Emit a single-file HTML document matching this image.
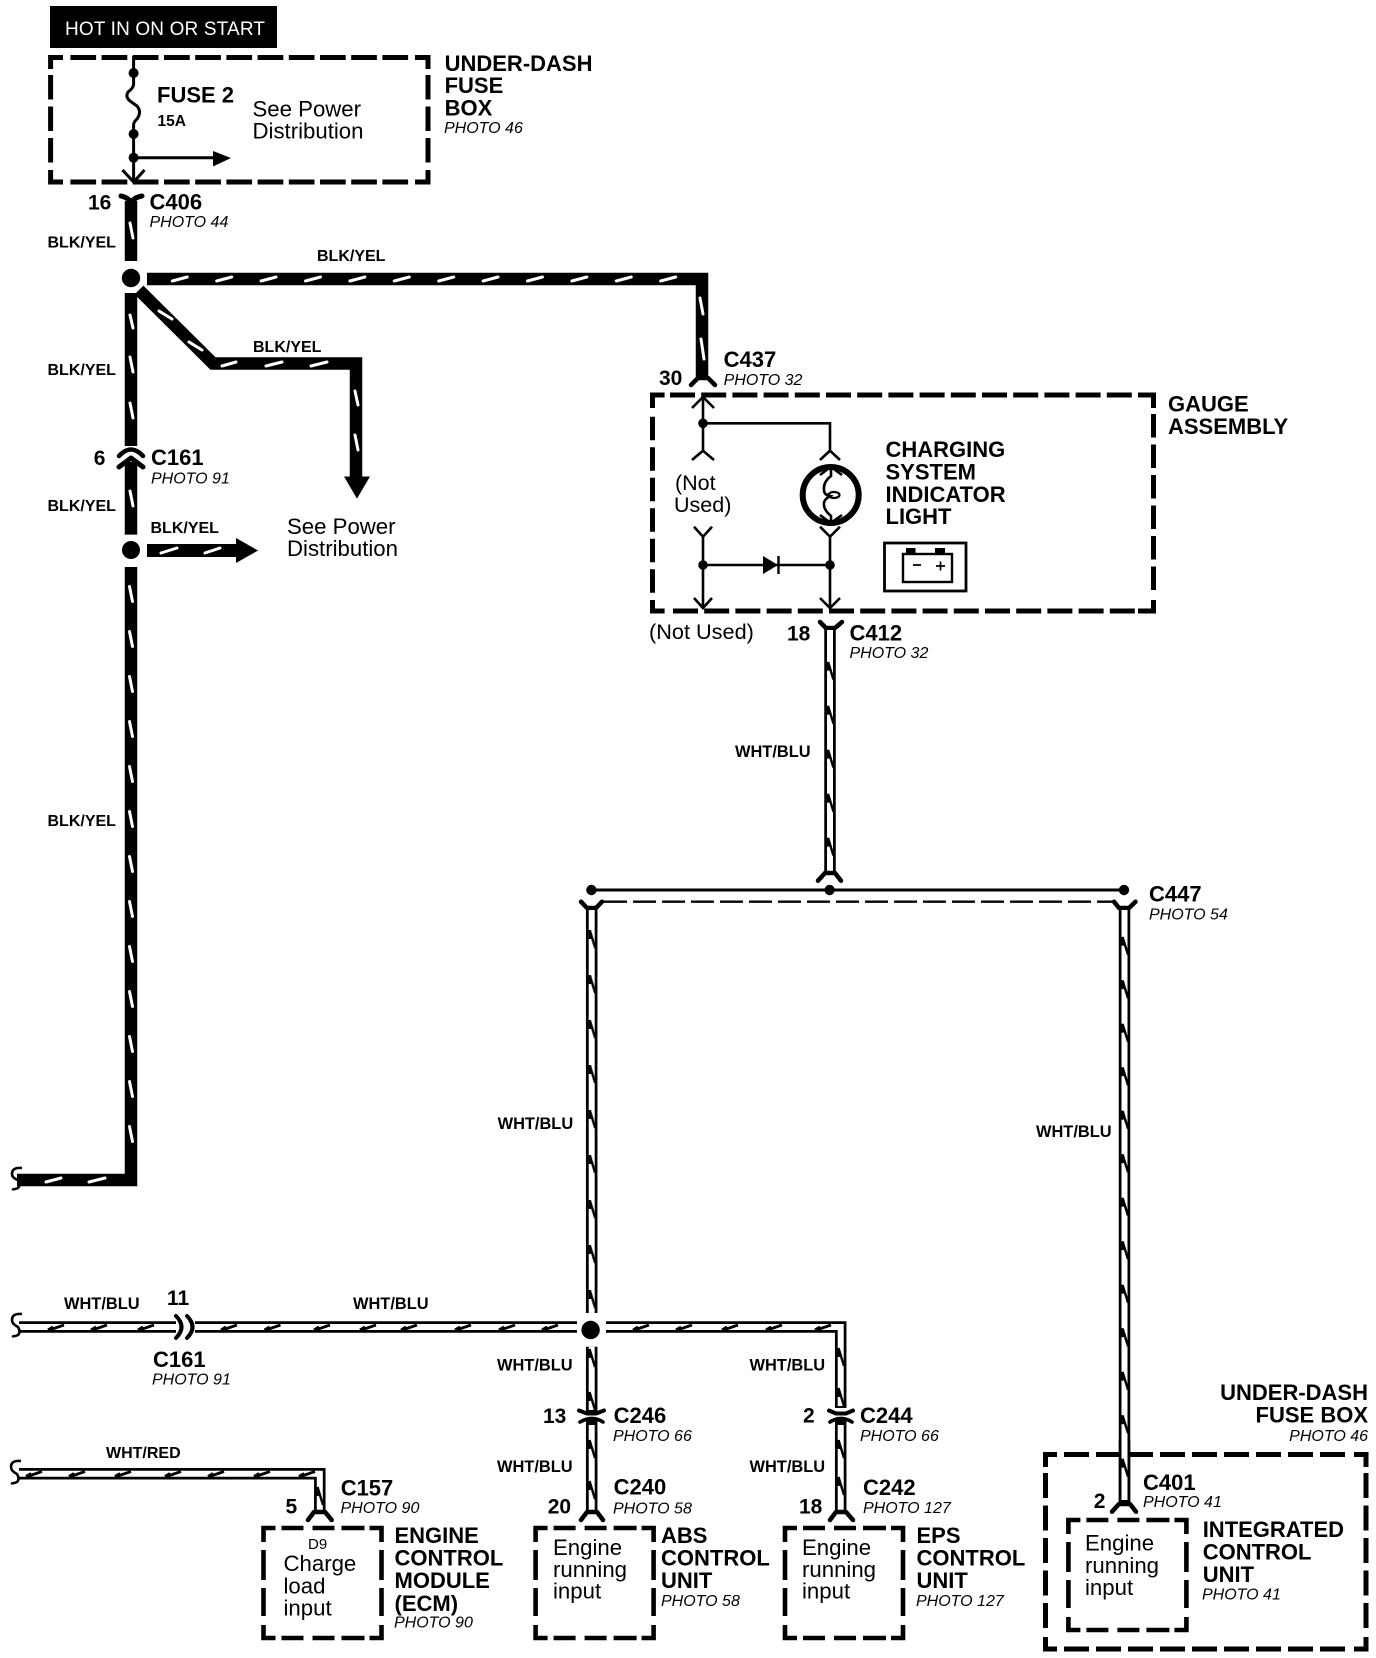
<!DOCTYPE html>
<html lang="en">
<head>
<meta charset="utf-8">
<title>Charging system wiring diagram</title>
<style>
html,body{margin:0;padding:0;background:#fff}
svg{display:block}
text{font-family:"Liberation Sans",sans-serif;fill:#000}
.b22{font-weight:bold;font-size:22px}
.b21{font-weight:bold;font-size:21px}
.r22{font-size:22.2px}
.w{font-weight:bold;font-size:16px}
.wb{font-weight:bold;font-size:16.4px}
.p{font-style:italic;font-size:16px}
.d{fill:none;stroke:#000;stroke-width:5}
.t{fill:none;stroke:#000;stroke-width:2.6}
.c{fill:none;stroke:#000;stroke-width:4.5;stroke-linejoin:round;stroke-linecap:round}
.wk{fill:none;stroke:#000;stroke-width:11.5}
.wi{fill:none;stroke:#fff;stroke-width:6}
.bk{fill:none;stroke:#000;stroke-width:12.5}
.m{stroke:#fff;stroke-width:3;stroke-linecap:round}
</style>
</head>
<body>
<svg width="1376" height="1658" viewBox="0 0 1376 1658" xmlns="http://www.w3.org/2000/svg">
<defs>
<pattern id="bh" patternUnits="userSpaceOnUse" width="44.4" height="13" patternTransform="translate(170.8,272.5)">
  <line x1="1.5" y1="8.5" x2="16.5" y2="4.5" stroke="#fff" stroke-width="3" stroke-linecap="round"/>
</pattern>
<pattern id="bv" patternUnits="userSpaceOnUse" width="12" height="45" patternTransform="translate(125,585)">
  <line x1="4.5" y1="1.5" x2="7.5" y2="16.5" stroke="#fff" stroke-width="3" stroke-linecap="round"/>
</pattern>
<path id="nm" d="M3.5 0V9M3.5 0L9 18" stroke="#000" stroke-width="2.4" fill="none"/>
<path id="zm" d="M0 8.5L5 5.5L3 8L16 3.5" stroke="#000" stroke-width="2.8" fill="none"/>
<pattern id="v830" patternUnits="userSpaceOnUse" width="12" height="44" patternTransform="translate(824.5,661.7)">
  <use href="#nm"/>
</pattern>
<pattern id="v591" patternUnits="userSpaceOnUse" width="12" height="45" patternTransform="translate(586.2,930)">
  <use href="#nm"/>
</pattern>
<pattern id="v1124" patternUnits="userSpaceOnUse" width="12" height="43.5" patternTransform="translate(1119,936.7)">
  <use href="#nm"/>
</pattern>
<g id="smallbox">
  <path class="d" style="stroke-width:4.6" d="M0 14V0H12 M18 0H40 M49 0H71 M78 0H101 M106 0H118V14 M0 22V52 M0 60V88 M0 97V110H12 M18 110H40 M49 110H71 M78 110H101 M106 110H118V97 M118 22V52 M118 60V88"/>
</g>
</defs>

<!-- header -->
<rect x="50" y="6" width="227" height="42" fill="#000"/>
<text x="65" y="35" font-size="19" textLength="200" lengthAdjust="spacing" style="fill:#fff">HOT IN ON OR START</text>

<!-- fuse box -->
<path class="d" d="M50.6 69V57.5H63 M415 57.5H428V69 M50.6 170V182H63 M415 182H428V170"/>
<line class="d" x1="70.4" y1="57.5" x2="410" y2="57.5" stroke-dasharray="25.7 5.5"/>
<line class="d" x1="70.4" y1="182" x2="410" y2="182" stroke-dasharray="25.7 5.5"/>
<line class="d" x1="50.6" y1="75" x2="50.6" y2="163" stroke-dasharray="24.5 7"/>
<line class="d" x1="428" y1="75" x2="428" y2="163" stroke-dasharray="24.5 7"/>
<path class="t" style="stroke-width:3" d="M133.6 56V84Q133.6 88 128 92Q125 97 130 101L137 106Q142 112 137 119Q133.6 122 133.6 125V182"/>
<circle cx="133.6" cy="73" r="5"/><circle cx="133.6" cy="134" r="5"/><circle cx="133.6" cy="157.7" r="5"/>
<line x1="133.6" y1="157.7" x2="215" y2="157.7" stroke="#000" stroke-width="3"/>
<polygon points="213,151 231,158 213,166.5"/>
<path class="t" style="stroke-width:3" d="M122.5 170L133.6 182L144.5 170"/>
<text class="b22" x="157" y="102.6">FUSE 2</text>
<text x="157.5" y="126" font-weight="bold" font-size="15.5">15A</text>
<text class="r22" x="252.5" y="116.7">See Power</text>
<text class="r22" x="252.5" y="138.5">Distribution</text>
<text class="b22" x="444.6" y="70.8">UNDER-DASH</text>
<text class="b22" x="444.6" y="93">FUSE</text>
<text class="b22" x="444.6" y="115.6">BOX</text>
<text class="p" x="444" y="132.8">PHOTO 46</text>

<!-- main BLK/YEL wires -->
<path class="c" style="stroke-width:5" d="M121 196Q131 198 131 206Q131 198 142 196"/>
<path class="bk" d="M131 201V261"/>
<path class="bk" d="M147 279H702V378"/>
<path class="bk" d="M131 293V446"/>
<path class="bk" d="M131 462V534.6"/>
<path class="bk" d="M131 567V1180H17"/>
<path class="bk" style="stroke-linejoin:miter" d="M139 290L213 363.5H356V478"/>
<polygon points="344,476.5 370,476.5 357,498.6"/>
<rect x="147" y="544" width="89" height="13"/>
<polygon points="236,538 258,550.5 236,563"/>
<rect x="147" y="272.5" width="549" height="13" fill="url(#bh)"/>
<rect x="125" y="585" width="12" height="560" fill="url(#bv)"/>
<g class="m">
<line x1="130" y1="223" x2="133" y2="238"/>
<line x1="130" y1="315" x2="133" y2="328"/>
<line x1="130" y1="357" x2="133" y2="372"/>
<line x1="130" y1="403" x2="133" y2="418"/>
<line x1="130" y1="491" x2="133" y2="506"/>
<line x1="700" y1="298" x2="703" y2="314"/>
<line x1="701" y1="339" x2="704" y2="359"/>
<line x1="355" y1="391" x2="358" y2="405"/>
<line x1="355" y1="435" x2="358" y2="450"/>
<line x1="161" y1="553" x2="177" y2="548"/>
<line x1="205" y1="553" x2="220" y2="548"/>
<line x1="159" y1="311" x2="172" y2="319"/>
<line x1="189" y1="342" x2="202" y2="350"/>
<line x1="222" y1="366" x2="236" y2="362"/>
<line x1="266" y1="366" x2="282" y2="362"/>
<line x1="311" y1="366" x2="327" y2="362"/>
<line x1="46" y1="1182" x2="61" y2="1178"/>
<line x1="89" y1="1182" x2="105" y2="1178"/>
</g>
<circle cx="131" cy="278" r="13.5" fill="#fff"/>
<circle cx="131" cy="278" r="9.2"/>
<circle cx="131" cy="550" r="9"/>
<path class="c" d="M119 456Q131 443 143 456"/>
<path class="c" style="stroke-width:5" d="M119 467L131 458L143 467"/>
<path class="t" d="M22 1168Q12 1167 12 1174Q12 1178 18 1180Q21 1185 18 1188Q14 1190 12 1189"/>

<text class="b21" x="88" y="209.3">16</text>
<text class="b22" x="149.5" y="209.3">C406</text>
<text class="p" x="149.5" y="227">PHOTO 44</text>
<text class="w" x="47.5" y="247.6">BLK/YEL</text>
<text class="w" x="317" y="261">BLK/YEL</text>
<text class="w" x="47.5" y="375">BLK/YEL</text>
<text class="w" x="253" y="352">BLK/YEL</text>
<text class="b21" x="93.7" y="465">6</text>
<text class="b22" x="151" y="465">C161</text>
<text class="p" x="151" y="483.4">PHOTO 91</text>
<text class="w" x="47.5" y="511">BLK/YEL</text>
<text class="w" x="150.5" y="533">BLK/YEL</text>
<text class="w" x="47.5" y="826">BLK/YEL</text>
<text class="r22" x="287" y="533.9">See Power</text>
<text class="r22" x="287" y="556">Distribution</text>

<!-- gauge assembly -->
<path class="c" d="M691 385L698 378H708L715 385"/>
<text class="b21" x="659" y="385">30</text>
<text class="b22" x="723.6" y="367">C437</text>
<text class="p" x="723.6" y="385">PHOTO 32</text>
<path class="d" d="M652.5 408V395H664.6 M1138 395H1153.5V408 M652.5 600V611H664.6 M1138 611H1153.5V600"/>
<line class="d" x1="670" y1="395" x2="1135" y2="395" stroke-dasharray="25 6.2"/>
<line class="d" x1="673" y1="611" x2="1135" y2="611" stroke-dasharray="25 6.2"/>
<line class="d" x1="652.5" y1="416.7" x2="652.5" y2="593" stroke-dasharray="23.5 7"/>
<line class="d" x1="1153.5" y1="414" x2="1153.5" y2="593" stroke-dasharray="23.5 7"/>
<path class="t" d="M703 397V450.7 M692 408L703 397L714 408 M692 460L703 450.7L714 460 M703 423.3H830V450.7 M820 460L830 450.7L840 460"/>
<circle cx="703" cy="423.3" r="4.8"/>
<circle cx="830.7" cy="495" r="28" fill="none" stroke="#000" stroke-width="6"/>
<path class="t" d="M820 475L830.7 466.7L842 475 M820 515L830.7 523L842 515"/>
<path class="t" d="M831 468V476Q823 482 824 490Q824 495 830 496Q823 500 824 505Q824 510 831 516V522"/>
<ellipse cx="834" cy="495" rx="5.5" ry="3" fill="none" stroke="#000" stroke-width="2.2"/>
<path class="t" d="M694 526.7L703 536.7L712 526.7 M703 536.7V608 M694 598L703 608L712 598 M820 526.7L830 536.7L840 526.7 M830 536.7V608 M820 598L830 608L840 598 M703 565H830"/>
<circle cx="703" cy="565" r="4.8"/><circle cx="830" cy="565" r="4.8"/>
<polygon points="763,556 763,574 778,565"/>
<line x1="778.5" y1="556" x2="778.5" y2="574" stroke="#000" stroke-width="2.4"/>
<rect x="884.5" y="543" width="81.5" height="48" fill="none" stroke="#000" stroke-width="2.8"/>
<rect x="903" y="554" width="49" height="28" fill="none" stroke="#000" stroke-width="2.4"/>
<rect x="906" y="548" width="9.5" height="5.5"/><rect x="935" y="548" width="10" height="5.5"/>
<path d="M913 565H921 M936 566H945 M940.5 561.5V570.5" stroke="#000" stroke-width="1.7" fill="none"/>
<text class="b22" x="1168" y="411.7">GAUGE</text>
<text class="b22" x="1168" y="434">ASSEMBLY</text>
<text class="b22" x="885.5" y="457">CHARGING</text>
<text class="b22" x="885.5" y="479.6">SYSTEM</text>
<text class="b22" x="885.5" y="502">INDICATOR</text>
<text class="b22" x="885.5" y="524">LIGHT</text>
<text x="675" y="490" font-size="21.5">(Not</text>
<text x="674" y="512" font-size="21.5">Used)</text>
<text x="649" y="639" font-size="21.7">(Not Used)</text>

<!-- C412 -->
<text class="b21" x="787" y="640.5">18</text>
<text class="b22" x="849.5" y="640.5">C412</text>
<text class="p" x="849.5" y="658">PHOTO 32</text>
<path class="c" d="M820 622L826 628H835L842 622"/>
<path class="wk" d="M830 628V872"/><path class="wi" d="M830 630V871"/>
<rect x="824.5" y="661.7" width="11" height="210" fill="url(#v830)"/>
<path class="c" d="M818 880.7L825 873H835L841 880.7"/>
<text class="wb" x="735" y="757">WHT/BLU</text>

<!-- bus -->
<line x1="591.4" y1="890" x2="1124" y2="890" stroke="#000" stroke-width="3"/>
<circle cx="591.4" cy="890" r="5.2"/><circle cx="829.6" cy="890" r="5.2"/><circle cx="1124" cy="890" r="5.2"/>
<line x1="604" y1="901.7" x2="1114" y2="901.7" stroke="#000" stroke-width="2.4" stroke-dasharray="23 6"/>
<path class="c" d="M581 901.7L587 908H596L602 901.7"/>
<path class="c" d="M1114 901.7L1119 908H1129L1135.5 901.7"/>
<text class="b22" x="1149" y="901.7">C447</text>
<text class="p" x="1149" y="919.3">PHOTO 54</text>

<!-- vertical WHT/BLU -->
<path class="wk" d="M591.7 908V1313"/><path class="wi" d="M591.7 910V1313"/>
<rect x="586.2" y="930" width="11.5" height="383" fill="url(#v591)"/>
<path class="wk" d="M1124.5 908V1502"/><path class="wi" d="M1124.5 910V1500"/>
<text class="wb" x="497.6" y="1129">WHT/BLU</text>
<text class="wb" x="1036" y="1137">WHT/BLU</text>

<!-- horizontal WHT/BLU -->
<path class="wk" d="M19 1327H176"/><path class="wi" d="M19 1327H176"/>
<path class="wk" d="M195 1327H577"/><path class="wi" d="M195 1327H577"/>
<path class="wk" style="stroke-linejoin:miter" d="M606 1327H840.7V1408"/><path class="wi" style="stroke-linejoin:miter" d="M606 1327H840.7V1406"/>
<g transform="translate(0,1321.5)">
<use href="#zm" x="48"/><use href="#zm" x="91"/><use href="#zm" x="138"/><use href="#zm" x="221"/><use href="#zm" x="264.5"/><use href="#zm" x="314"/><use href="#zm" x="360"/><use href="#zm" x="401"/><use href="#zm" x="455"/><use href="#zm" x="499"/><use href="#zm" x="542"/><use href="#zm" x="633"/><use href="#zm" x="676"/><use href="#zm" x="722"/><use href="#zm" x="766"/><use href="#zm" x="815"/>
</g>
<use href="#nm" x="835" y="1348"/><use href="#nm" x="835" y="1388"/>
<circle cx="590.6" cy="1330" r="9.2"/>
<path class="c" style="stroke-width:4" d="M176 1316Q187 1327 176 1338"/>
<path class="c" style="stroke-width:4" d="M187 1316Q198 1327 187 1338"/>
<path class="t" d="M22 1314Q12 1313 12 1320Q12 1324 18 1327Q21 1332 18 1335Q14 1337 12 1336"/>
<text class="b21" x="167" y="1305">11</text>
<text class="wb" x="64" y="1309">WHT/BLU</text>
<text class="wb" x="353" y="1309">WHT/BLU</text>
<text class="b22" x="153" y="1367">C161</text>
<text class="p" x="152" y="1384.5">PHOTO 91</text>

<!-- C246 / C240 -->
<path class="wk" d="M591.7 1346.7V1412"/><path class="wi" d="M591.7 1346.7V1410"/>
<use href="#nm" x="586" y="1349"/><use href="#nm" x="586" y="1392"/>
<path class="c" style="stroke-width:4" d="M579 1410.5L587 1413.5H596L604 1410.5"/>
<path class="c" style="stroke-width:3.6" d="M580 1422Q592 1415 603 1422"/>
<path class="wk" d="M591.7 1420V1513"/><path class="wi" d="M591.7 1425V1510"/>
<use href="#nm" x="586" y="1440"/><use href="#nm" x="586" y="1481"/>
<path class="c" d="M581 1520L587 1512H597L603 1520"/>
<text class="wb" x="497" y="1370.7">WHT/BLU</text>
<text class="wb" x="497" y="1472">WHT/BLU</text>
<text class="b21" x="543" y="1423">13</text>
<text class="b22" x="613.6" y="1423">C246</text>
<text class="p" x="613" y="1441">PHOTO 66</text>
<text class="b22" x="613.6" y="1494.5">C240</text>
<text class="p" x="613" y="1513.3">PHOTO 58</text>
<text class="b21" x="547.7" y="1513.5">20</text>

<!-- C244 / C242 -->
<path class="c" style="stroke-width:4" d="M829 1410.5L836 1413.5H846L853 1410.5"/>
<path class="c" style="stroke-width:3.6" d="M830 1422Q841 1415 852 1422"/>
<path class="wk" d="M840.7 1420V1513"/><path class="wi" d="M840.7 1425V1510"/>
<use href="#nm" x="835" y="1440"/><use href="#nm" x="835" y="1477"/>
<path class="c" d="M830 1520L836 1512H846L853 1520"/>
<text class="wb" x="749.5" y="1370.7">WHT/BLU</text>
<text class="wb" x="749.5" y="1472">WHT/BLU</text>
<text class="b21" x="803" y="1422.7">2</text>
<text class="b22" x="860" y="1423">C244</text>
<text class="p" x="860" y="1441">PHOTO 66</text>
<text class="b22" x="863" y="1495">C242</text>
<text class="p" x="863" y="1513">PHOTO 127</text>
<text class="b21" x="799" y="1513.5">18</text>

<!-- WHT/RED -->
<path class="wk" style="stroke-linejoin:miter" d="M19 1473.7H319.8V1512"/><path class="wi" style="stroke-linejoin:miter" d="M19 1473.7H319.8V1510"/>
<g transform="translate(0,1468)">
<use href="#zm" x="26"/><use href="#zm" x="69"/><use href="#zm" x="115"/><use href="#zm" x="165"/><use href="#zm" x="208"/><use href="#zm" x="254"/><use href="#zm" x="299"/>
</g>
<use href="#nm" x="314" y="1487"/>
<path class="t" d="M21 1461Q11 1460 11 1467Q11 1471 17 1474Q20 1479 17 1482Q13 1484 11 1483"/>
<path class="c" d="M308 1520L314 1512H325L331.7 1520"/>
<text class="w" x="106" y="1458">WHT/RED</text>
<text class="b22" x="340.7" y="1495.5">C157</text>
<text class="p" x="340.5" y="1513">PHOTO 90</text>
<text class="b21" x="285.5" y="1513.5">5</text>

<!-- ECM -->
<use href="#smallbox" transform="translate(263.5,1528)"/>
<text x="308" y="1549" font-size="15">D9</text>
<text class="r22" x="283.5" y="1571">Charge</text>
<text class="r22" x="283.5" y="1593.5">load</text>
<text class="r22" x="283.5" y="1615.5">input</text>
<text class="b22" x="394.5" y="1543">ENGINE</text>
<text class="b22" x="394.5" y="1565.5">CONTROL</text>
<text class="b22" x="394.5" y="1588">MODULE</text>
<text class="b22" x="394.5" y="1611">(ECM)</text>
<text class="p" x="394" y="1627.7">PHOTO 90</text>

<!-- ABS -->
<use href="#smallbox" transform="translate(535.6,1528)"/>
<text class="r22" x="553" y="1555">Engine</text>
<text class="r22" x="553" y="1577">running</text>
<text class="r22" x="553" y="1598.5">input</text>
<text class="b22" x="661" y="1543">ABS</text>
<text class="b22" x="661" y="1565.5">CONTROL</text>
<text class="b22" x="661" y="1588">UNIT</text>
<text class="p" x="661" y="1606">PHOTO 58</text>

<!-- EPS -->
<use href="#smallbox" transform="translate(785,1528)"/>
<text class="r22" x="802" y="1555">Engine</text>
<text class="r22" x="802" y="1577">running</text>
<text class="r22" x="802" y="1598.5">input</text>
<text class="b22" x="916.5" y="1543">EPS</text>
<text class="b22" x="916.5" y="1565.5">CONTROL</text>
<text class="b22" x="916.5" y="1588">UNIT</text>
<text class="p" x="916" y="1606">PHOTO 127</text>

<!-- Under-dash / ICU -->
<text class="b22" x="1368" y="1400" text-anchor="end">UNDER-DASH</text>
<text class="b22" x="1368" y="1422.7" text-anchor="end">FUSE BOX</text>
<text class="p" x="1368" y="1441" text-anchor="end">PHOTO 46</text>
<path class="d" d="M1045.5 1467V1454.5H1057 M1354 1454.5H1366V1467 M1045.5 1637V1649H1057 M1354 1649H1366V1637"/>
<line class="d" x1="1064" y1="1454.5" x2="1348" y2="1454.5" stroke-dasharray="25 7"/>
<line class="d" x1="1064" y1="1649" x2="1348" y2="1649" stroke-dasharray="25 7"/>
<line class="d" x1="1045.5" y1="1473" x2="1045.5" y2="1630" stroke-dasharray="25 7.5"/>
<line class="d" x1="1366" y1="1473" x2="1366" y2="1630" stroke-dasharray="25 7.5"/>
<line x1="1112" y1="1454.5" x2="1142" y2="1454.5" stroke="#000" stroke-width="5"/>
<path class="wk" d="M1124.5 1440V1503"/><path class="wi" d="M1124.5 1440V1500"/>
<rect x="1119" y="936.7" width="11" height="565" fill="url(#v1124)"/>
<path class="c" d="M1112 1511.7L1119 1504H1130L1136 1511.7"/>
<text class="b21" x="1093.7" y="1508">2</text>
<text class="b22" x="1143" y="1490">C401</text>
<text class="p" x="1143" y="1507">PHOTO 41</text>
<use href="#smallbox" transform="translate(1068.4,1520)"/>
<text class="r22" x="1085" y="1550.7">Engine</text>
<text class="r22" x="1085" y="1573">running</text>
<text class="r22" x="1085" y="1595">input</text>
<text class="b22" x="1202.7" y="1537">INTEGRATED</text>
<text class="b22" x="1202.7" y="1559.5">CONTROL</text>
<text class="b22" x="1202.7" y="1582">UNIT</text>
<text class="p" x="1202" y="1599.5">PHOTO 41</text>
</svg>
</body>
</html>
